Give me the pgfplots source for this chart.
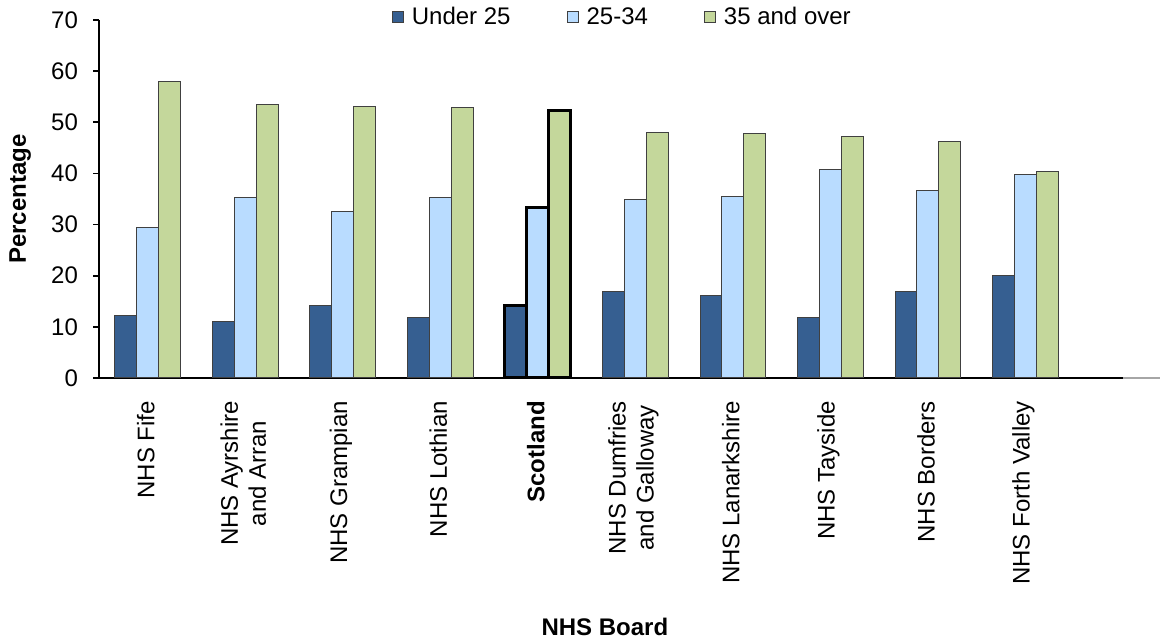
\documentclass[border=0pt]{standalone}
\usepackage{pgfplots}
\pgfplotsset{compat=1.18}
\usepackage{fontspec}
\setmainfont{Liberation Sans}
\definecolor{under}{HTML}{365F91}
\definecolor{mid}{HTML}{B9DCFF}
\definecolor{over}{HTML}{C4D79B}
\definecolor{edge}{HTML}{404040}
\newcommand\chartfont{\fontsize{12}{14}\selectfont}

\begin{document}
\begin{tikzpicture}
\useasboundingbox (0,0) rectangle (580pt,320.5pt);
\begin{axis}[
  at={(49.5pt,131.5pt)}, anchor=south west,
  scale only axis, width=512pt, height=179pt,
  font=\chartfont,
  ybar, bar width=0.225,
  ymin=0, ymax=70, ytick={0,10,...,70},
  xmin=-0.5, xmax=10,
  xtick={0,...,9},
  xticklabels={NHS Fife, NHS Ayrshire\\and Arran, NHS Grampian, NHS Lothian,
    \textbf{Scotland}, NHS Dumfries\\and Galloway, NHS Lanarkshire, NHS Tayside,
    NHS Borders, NHS Forth Valley},
  axis lines*=left,
  axis line style={black, line width=1pt},
  tick align=outside, major tick length=3pt,
  xtick style={draw=none},
  ytick style={black, line width=0.8pt},
  tick label style={font=\chartfont},
  /pgf/number format/assume math mode=true,
  yticklabel style={xshift=-4pt},
  % rotated frame: xshift moves the label down the page
  xticklabel style={rotate=90, anchor=east, align=center, xshift=-5pt, yshift=1pt},
  ylabel={\textbf{Percentage}},
  ylabel style={font=\chartfont, at={(axis description cs:-0.077,0.5)}, anchor=center},
  xlabel={\textbf{NHS Board}},
  xlabel style={font=\chartfont, at={(axis description cs:0.494,-0.694)}, anchor=center},
  clip=false,
  legend columns=3,
  legend cell align=left,
  legend style={draw=none, fill=none, at={(0.512,1.008)}, anchor=center,
    font=\chartfont,
    nodes={inner sep=2pt},
    /tikz/every odd column/.append style={column sep=2pt},
    /tikz/every even column/.append style={column sep=26pt}},
  legend image code/.code={\draw[#1] (0pt,-2.75pt) rectangle (5.5pt,2.75pt);},
]
\addplot[fill=under, draw=edge, line width=0.5pt, bar shift=-0.225]
  coordinates {(0,12.3) (1,11.0) (2,14.1) (3,11.8) (5,16.9) (6,16.2) (7,11.8) (8,17.0) (9,20.1)};
\addplot[fill=mid, draw=edge, line width=0.5pt, bar shift=0]
  coordinates {(0,29.5) (1,35.2) (2,32.5) (3,35.2) (5,34.9) (6,35.4) (7,40.7) (8,36.6) (9,39.7)};
\addplot[fill=over, draw=edge, line width=0.5pt, bar shift=0.225]
  coordinates {(0,57.9) (1,53.4) (2,53.1) (3,52.8) (5,48.1) (6,47.9) (7,47.3) (8,46.3) (9,40.3)};
\legend{Under 25, 25-34, 35 and over}
% Scotland highlighted with heavy outlines
\addplot[fill=under, draw=black, line width=1.5pt, bar shift=-0.225, forget plot]
  coordinates {(4,14.2)};
\addplot[fill=mid, draw=black, line width=1.5pt, bar shift=0, forget plot]
  coordinates {(4,33.4)};
\addplot[fill=over, draw=black, line width=1.5pt, bar shift=0.225, forget plot]
  coordinates {(4,52.3)};
\draw[gray!70, line width=1pt] (axis cs:10,0) -- (axis cs:10.38,0);
\end{axis}
\end{tikzpicture}
\end{document}
